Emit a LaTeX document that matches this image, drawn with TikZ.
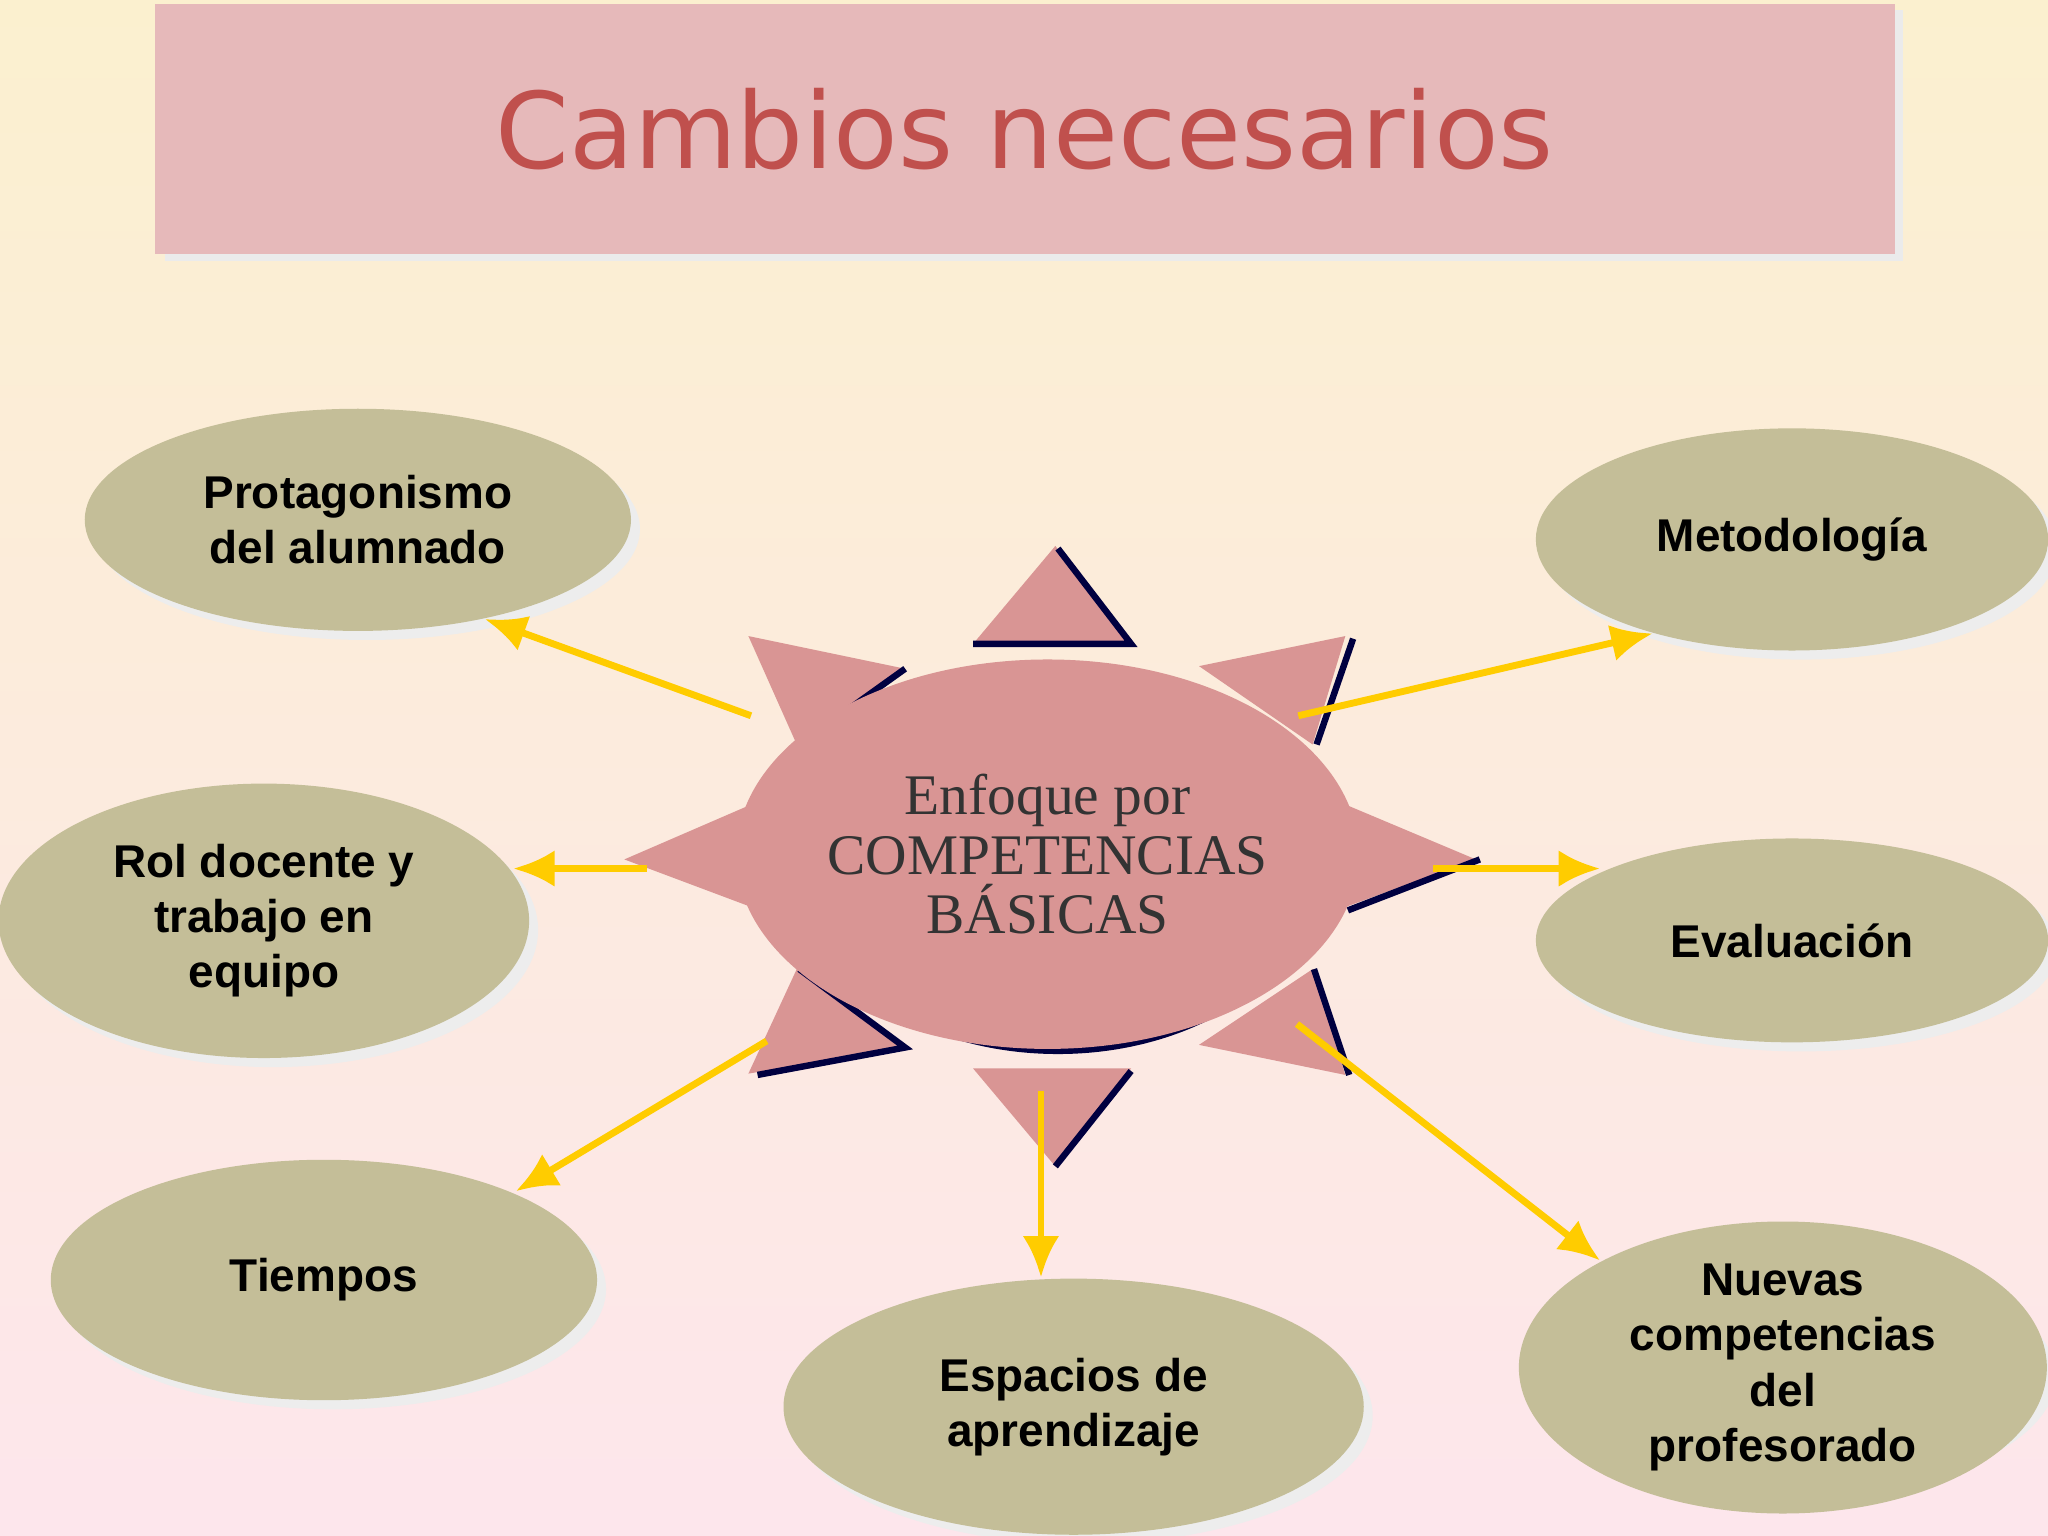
\documentclass[tikz,border=0pt]{standalone}
\usepackage{fontspec}
\setmainfont{Liberation Serif}
\setsansfont{Liberation Sans}
\newfontfamily\titlefont{DejaVu Sans}
\begin{document}
\begin{tikzpicture}[x=0.01cm,y=-0.01cm,
  oval/.style={ellipse,fill=olive0,inner sep=0pt,font=\sffamily\bfseries\fontsize{10}{12}\selectfont,align=center,text=black},
  tri/.style={fill=pinkt},
  edge/.style={draw=navy,line width=1.4pt},
  arr/.style={draw=gold,line width=1.5pt,-{Latex[length=9pt,width=8pt]}}]
\usetikzlibrary{shapes.geometric,arrows.meta}
\definecolor{olive0}{HTML}{C4BE98}
\definecolor{pinkt}{HTML}{D99594}
\definecolor{navy}{HTML}{000040}
\definecolor{gold}{HTML}{FFCC00}
\definecolor{bgtop}{HTML}{FBF0CF}
\definecolor{bgbot}{HTML}{FDE6EC}
\definecolor{titlebg}{HTML}{E6B9BA}
\definecolor{titlefg}{HTML}{C0504D}
\useasboundingbox (0,0) rectangle (1568,1176);
\shade[top color=bgtop,bottom color=bgbot] (0,0) rectangle (1568,1176);
\fill[black!8] (126,8) rectangle (1457,200);
\node[fill=titlebg,minimum width=13.31cm,minimum height=1.92cm,inner sep=0pt,anchor=north west,text=titlefg,font=\titlefont\fontsize{23}{26}\selectfont] (title) at (118,2) {Cambios necesarios};
% shadows of ovals
\foreach \x/\y/\a/\b in {274/398/418/170,1372/413/392/170,202/705/406/210,1372/720/392/156,248/980/418/184,822/1077/444/196,1365/1047/404/184}
  \fill[black!7] (\x+7,\y+7) ellipse [x radius=\a/2, y radius=\b/2];
\node[oval,minimum width=4.18cm,minimum height=1.70cm] (p) at (274,398) {Protagonismo\\del alumnado};
\node[oval,minimum width=3.92cm,minimum height=1.70cm] (m) at (1372,413) {Metodología};
\node[oval,minimum width=4.06cm,minimum height=2.10cm] (r) at (202,705) {Rol docente y\\trabajo en\\equipo};
\node[oval,minimum width=3.92cm,minimum height=1.56cm] (e) at (1372,720) {Evaluación};
\node[oval,minimum width=4.18cm,minimum height=1.84cm] (t) at (248,980) {Tiempos};
\node[oval,minimum width=4.44cm,minimum height=1.96cm] (s) at (822,1077) {Espacios de\\aprendizaje};
\node[oval,minimum width=4.04cm,minimum height=1.84cm] (n) at (1365,1047) {Nuevas\\competencias\\del\\profesorado};
% triangles
\fill[tri] (745,493)--(808,418)--(866,493)--cycle; \draw[edge] (810,420)--(866,493)--(745,493);
\fill[tri] (573,487)--(693,512)--(610,570)--cycle; \draw[edge] (693,512)--(612,570);
\fill[tri] (918,510)--(1030,487)--(1005,570)--cycle; \draw[edge] (1036,489)--(1008,570);
\fill[tri] (478,658)--(582,613)--(582,697)--cycle; \draw[edge] (586,615)--(586,699);
\fill[tri] (1023,613)--(1130,658)--(1023,697)--cycle; \draw[edge] (1133,658)--(1032,697);
\fill[tri] (610,742)--(693,802)--(573,822)--cycle; \draw[edge] (612,742)--(693,802)--(580,823);
\fill[tri] (1005,742)--(1030,823)--(918,800)--cycle; \draw[edge] (1006,742)--(1033,823);
\fill[tri] (745,818)--(866,818)--(808,893)--cycle; \draw[edge] (866,820)--(808,893);
% center
\fill[navy] (810,657) ellipse [x radius=205, y radius=150];
\node[ellipse,fill=pinkt,minimum width=4.02cm,minimum height=2.98cm,inner sep=0pt,align=center,font=\fontsize{12.5}{13}\selectfont,text=black!80] (c) at (802,654) {Enfoque por\\COMPETENCIAS\\BÁSICAS};
% arrows
\coordinate (a1) at (575,548); \draw[arr] (a1)--(p.-38);
\coordinate (a2) at (994,548); \draw[arr] (a2)--(m.-146);
\coordinate (a3) at (495,665); \draw[arr] (a3)--(393,665);
\coordinate (a4) at (1097,665); \draw[arr] (a4)--(1225,665);
\coordinate (a5) at (587,797); \draw[arr] (a5)--(395,912);
\coordinate (a6) at (797,835); \draw[arr] (a6)--(797,978);
\coordinate (a7) at (993,784); \draw[arr] (a7)--(1225,965);
\end{tikzpicture}
\end{document}
